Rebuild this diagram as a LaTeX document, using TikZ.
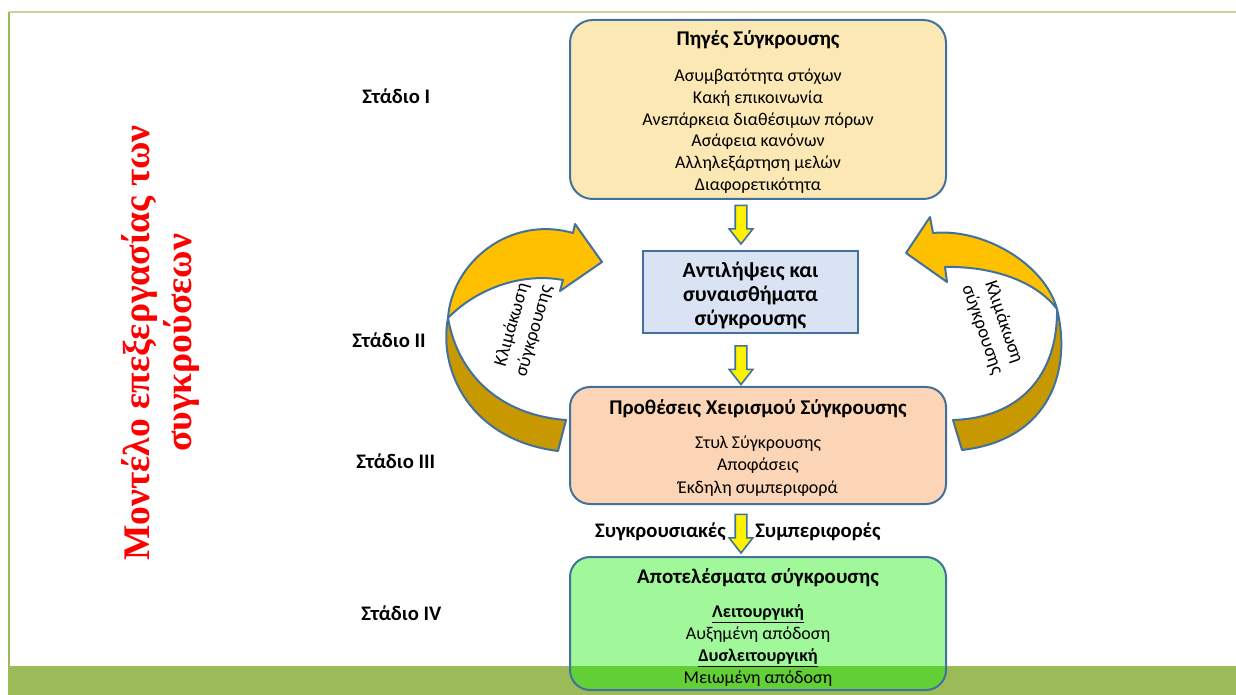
\documentclass[tikz,border=0pt]{standalone}
\usepackage{fontspec}
\setmainfont{Carlito}
\newfontfamily\tnr{Liberation Serif}
\usetikzlibrary{shapes.arrows,calc}
\definecolor{bordc}{RGB}{65,113,156}
\definecolor{framegreen}{RGB}{155,187,89}
\definecolor{toplinec}{RGB}{195,214,155}
\definecolor{yellowbox}{RGB}{252,232,180}
\definecolor{bluebox}{RGB}{218,227,243}
\definecolor{peachbox}{RGB}{251,213,181}
\definecolor{greenbox}{RGB}{17,237,2}
\definecolor{goldA}{RGB}{255,192,0}
\definecolor{goldB}{RGB}{200,152,0}
\tikzset{
  box/.style={draw=bordc, line width=1.5pt, inner sep=0pt},
  rbox/.style={box, rounded corners=17pt},
  txt/.style={align=center, inner sep=0pt, font=\fontsize{13.5}{16.35}\selectfont},
  downarrow/.style={single arrow, draw=bordc, fill=yellow, line width=1.2pt,
    rotate=-90, inner sep=3.75pt, text height=0pt, text depth=0pt, text width=0pt,
    minimum height=29pt, single arrow head extend=4.5pt, single arrow tip angle=76},
  curvA/.style={fill=goldA, draw=bordc, line width=1.5pt, line join=round},
  curvB/.style={fill=goldB, draw=bordc, line width=1.5pt, line join=round},
  stage/.style={anchor=west, inner sep=0pt, font=\fontsize{15.5}{18}\selectfont\bfseries},
  esc/.style={align=center, inner sep=0pt, font=\fontsize{14}{17}\selectfont},
  flow/.style={inner sep=0pt, font=\fontsize{15.5}{18}\selectfont\bfseries}
}
\newcommand{\ttl}[1]{{\fontsize{15.7}{16.35}\selectfont\bfseries #1}}
\begin{document}
\begin{tikzpicture}[x=0.75pt,y=0.75pt]
\useasboundingbox (0,0) rectangle (1236,-695);
% frame
\draw[toplinec, line width=1.5pt] (9,-12) -- (1236,-12);
\draw[framegreen, line width=0.8pt] (9,-12) -- (9,-666);
\fill[framegreen] (8,-666) rectangle (1236,-695);

% title
\node[rotate=90, align=center, text=red, font=\tnr\bfseries\fontsize{28.2}{31.5}\selectfont] (title) at (161,-343)
  {Μοντέλο επεξεργασίας των\\συγκρούσεων};

% stages
\node[stage] (s1) at (362,-96) {Στάδιο I};
\node[stage] (s2) at (352,-340) {Στάδιο II};
\node[stage] (s3) at (356,-461) {Στάδιο III};
\node[stage] (s4) at (361,-613) {Στάδιο IV};

% boxes
\node[rbox, fill=yellowbox, minimum width=282pt, minimum height=134.25pt] (b1) at (758,-109.5) {};
\node[txt] (t1) at (758,-112)
  {\ttl{Πηγές Σύγκρουσης}\\[10.6pt]
   Ασυμβατότητα στόχων\\ Κακή επικοινωνία\\ Ανεπάρκεια διαθέσιμων πόρων\\
   Ασάφεια κανόνων\\ Αλληλεξάρτηση μελών\\ Διαφορετικότητα};

\node[box, fill=bluebox, minimum width=161.25pt, minimum height=61.5pt] (b2) at (750.5,-292) {};
\node[txt, font=\fontsize{16.3}{18}\selectfont\bfseries] (t2) at (750.5,-295)
  {Αντιλήψεις και\\ συναισθήματα\\ σύγκρουσης};

\node[rbox, rounded corners=15pt, fill=peachbox, minimum width=282pt, minimum height=87.75pt] (b3) at (758,-445.5) {};
\node[txt, font=\fontsize{13.5}{16.9}\selectfont] (t3) at (758,-448)
  {\ttl{Προθέσεις Χειρισμού Σύγκρουσης}\\[8pt]
   Στυλ Σύγκρουσης\\ Αποφάσεις\\ Έκδηλη συμπεριφορά};

\node[rbox, rounded corners=15pt, fill=greenbox, fill opacity=0.4,
  minimum width=282pt, minimum height=99.75pt] (b4) at (758,-623.5) {};
\node[txt, font=\fontsize{13.5}{16.5}\selectfont] (t4) at (758,-627.5)
  {\ttl{Αποτελέσματα σύγκρουσης}\\[8.4pt]
   \textbf{\underline{Λειτουργική}}\\ Αυξημένη απόδοση\\
   \textbf{\underline{Δυσλειτουργική}}\\ Μειωμένη απόδοση};

% down arrows
\node[downarrow] (a1) at ($(b1.south)!0.5!(b2.north)+(-13.25,4)$) {};
\node[downarrow] (a2) at ($(b2.south)!0.5!(b3.north)+(-13.25,-1.5)$) {};
\node[downarrow] (a3) at ($(b3.south)!0.5!(b4.north)+(-17,0.5)$) {};
\node[flow, anchor=east] (l3a) at ($(a3)+(-15,-2)$) {Συγκρουσιακές};
\node[flow, anchor=west] (l3b) at ($(a3)+(14,-2)$) {Συμπεριφορές};

% left curved arrow
\filldraw[curvB] (448,-318) .. controls (438,-370) and (470,-440) .. (558,-451)
  -- (566,-420) .. controls (500,-415) and (458,-375) .. (448,-318) -- cycle;
\filldraw[curvA] (448,-318) .. controls (452,-262) and (510,-215) .. (573,-233)
  -- (575,-224) -- (602,-262) -- (560,-291) -- (563,-280)
  .. controls (520,-272) and (475,-290) .. (448,-318) -- cycle;
\node[esc, rotate=74] (e1) at (523,-328) {Κλιμάκωση\\ σύγκρουσης};

% right curved arrow
\filldraw[curvB] (1057,-309) .. controls (1072,-370) and (1050,-440) .. (962,-450)
  -- (953,-420) .. controls (1020,-418) and (1058,-375) .. (1057,-309) -- cycle;
\filldraw[curvA] (1057,-309) .. controls (1045,-265) and (985,-228) .. (933,-233)
  -- (930,-217) -- (906,-253) -- (947,-282) -- (945,-267)
  .. controls (990,-266) and (1035,-280) .. (1057,-309) -- cycle;
\node[esc, rotate=-71] (e2) at (993,-326) {Κλιμάκωση\\ σύγκρουσης};
\end{tikzpicture}
\end{document}
